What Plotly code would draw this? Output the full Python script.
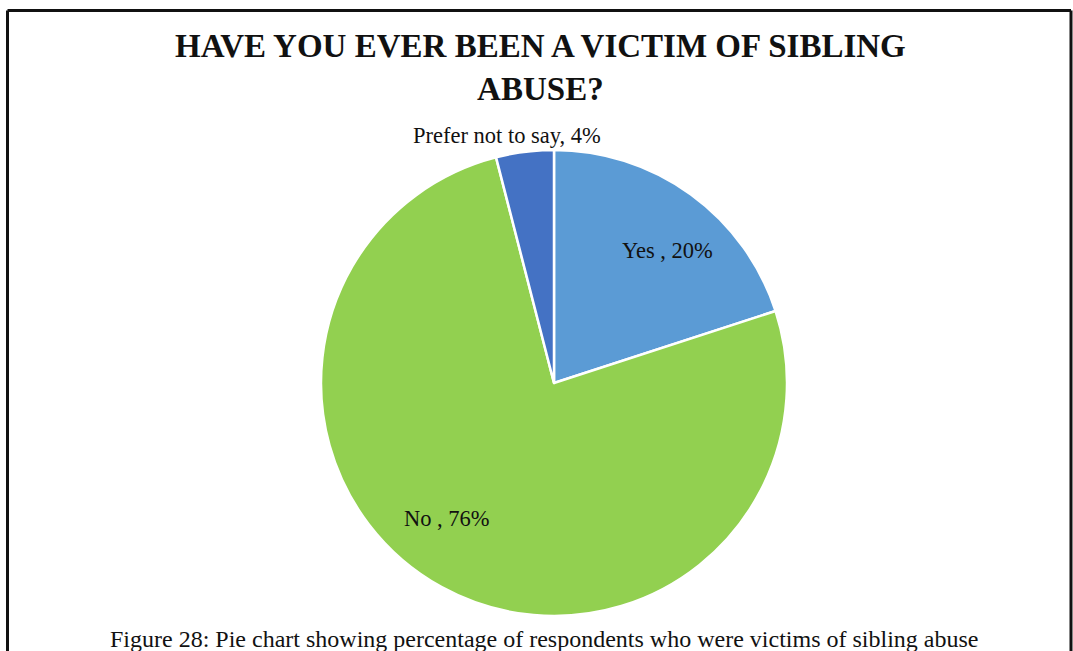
import plotly.graph_objects as go

W, H = 1073, 651

# Survey responses
labels = ["Yes ", "No ", "Prefer not to say"]
values = [20, 76, 4]
colors = ["#5B9BD5", "#92D050", "#4472C4"]

# Label anchor points (pixels) for each slice's data label
label_px = [(667, 250), (447, 518), (507, 135)]

title_text = "HAVE YOU EVER BEEN A VICTIM OF SIBLING<br>ABUSE?"
caption_text = "Figure 28: Pie chart showing percentage of respondents who were victims of sibling abuse"

SERIF = "Liberation Serif, Times New Roman, serif"

cx, cy, r = 554, 383, 233


def px(x):
    return x / W


def py(y):
    return 1 - y / H


fig = go.Figure(
    go.Pie(
        labels=labels,
        values=values,
        sort=False,
        direction="clockwise",
        rotation=0,
        marker=dict(colors=colors, line=dict(color="white", width=2.5)),
        textinfo="none",
        hoverinfo="label+percent",
        domain=dict(x=[px(cx - r), px(cx + r)], y=[py(cy + r), py(cy - r)]),
        showlegend=False,
    )
)

annotations = []
for lab, v, (ax, ay) in zip(labels, values, label_px):
    annotations.append(
        dict(
            x=px(ax), y=py(ay), xref="paper", yref="paper",
            text=f"{lab}, {v}%", showarrow=False,
            xanchor="center", yanchor="middle",
            font=dict(family=SERIF, size=22.5, color="#111111"),
        )
    )

annotations.append(
    dict(
        x=px(540), y=py(68), xref="paper", yref="paper",
        text=f"<b>{title_text}</b>", showarrow=False,
        xanchor="center", yanchor="middle",
        font=dict(family=SERIF, size=33, color="#111111"),
    )
)
annotations.append(
    dict(
        x=px(544), y=py(639), xref="paper", yref="paper",
        text=caption_text, showarrow=False,
        xanchor="center", yanchor="middle",
        font=dict(family=SERIF, size=24, color="#111111"),
    )
)

# Frame around the chart (open at the bottom)
frame = dict(color="#111111", width=3)
shapes = [
    dict(type="line", xref="paper", yref="paper", x0=px(7.5), x1=px(7.5), y0=py(10.5), y1=py(651), line=frame),
    dict(type="line", xref="paper", yref="paper", x0=px(7.5), x1=px(1071), y0=py(10.5), y1=py(10.5), line=frame),
    dict(type="line", xref="paper", yref="paper", x0=px(1071), x1=px(1071), y0=py(10.5), y1=py(651), line=frame),
]

fig.update_layout(
    width=W, height=H,
    margin=dict(l=0, r=0, t=0, b=0),
    paper_bgcolor="white", plot_bgcolor="white",
    annotations=annotations,
    shapes=shapes,
)

fig.write_html("out.html")
